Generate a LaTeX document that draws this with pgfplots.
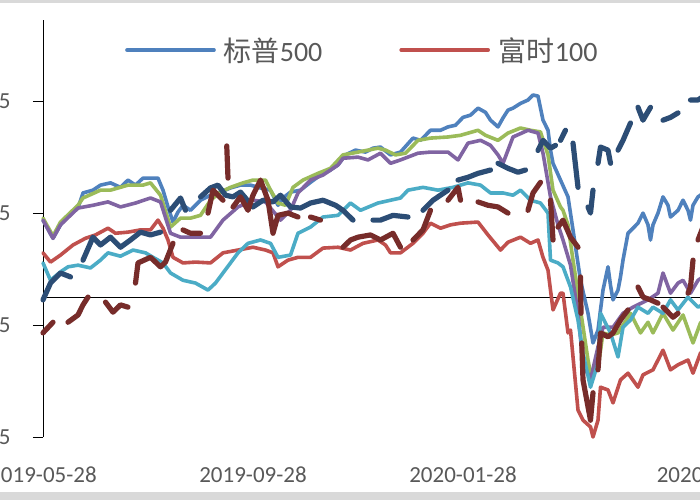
\documentclass[border=0pt]{standalone}
\usepackage{pgfplots}
\pgfplotsset{compat=1.18}
\usepackage{fontspec}
\setmainfont{Carlito}
\newfontfamily\cjk{Noto Sans CJK SC}
\definecolor{cBlue}{HTML}{4F81BD}
\definecolor{cRed}{HTML}{C0504D}
\definecolor{cGreen}{HTML}{9BBB59}
\definecolor{cPurple}{HTML}{8064A2}
\definecolor{cCyan}{HTML}{4BACC6}
\definecolor{cNavy}{HTML}{2C4D75}
\definecolor{cDRed}{HTML}{772C2A}
\definecolor{labelgray}{HTML}{595959}
\definecolor{frame}{HTML}{D9D9D9}
\begin{document}
\begin{tikzpicture}
\useasboundingbox (0,0) rectangle (700bp,500bp);
\clip (0,0) rectangle (700bp,500bp);
\fill[white] (0,0) rectangle (700bp,500bp);
\fill[frame] (0,0) rectangle (700bp,8bp);
\fill[frame] (0,497bp) rectangle (700bp,500bp);
\begin{axis}[
  at={(43bp,63bp)}, anchor=south west,
  scale only axis, width=670bp, height=417bp,
  xmin=0, xmax=268, ymin=0.75, ymax=1.495,
  axis x line=bottom, axis y line=left,
  axis line style={-},
  x axis line style={draw=none},
  y axis line style={black, line width=0.8bp},
  xtick={0,84,168,267},
  xticklabels={2019-05-28,2019-09-28,2020-01-28,2020-05-28},
  xtick style={draw=none},
  ytick={0.75,0.95,1.15,1.35},
  yticklabels={0.75,0.95,1.15,1.35},
  ytick style={black, line width=0.8bp},
  tick align=outside, major tick length=10bp,
  ticklabel style={font=\fontsize{23bp}{27bp}\selectfont, text=labelgray},
  yticklabel style={xshift=-19bp},
  xticklabel style={yshift=-16bp},
  extra y ticks={1}, extra y tick labels={},
  extra y tick style={grid=major, major grid style={black, line width=0.8bp}, tick style={draw=none}},
  unbounded coords=jump,
  clip=false,
  legend columns=2,
  legend style={font=\fontsize{28bp}{33bp}\selectfont, text=labelgray, draw=none, fill=none,
    inner sep=0pt, at={(0.1224,0.928)}, anchor=west,
    nodes={inner sep=0pt},
    /tikz/column 1/.style={column sep=8bp},
    /tikz/column 2/.style={column sep=77bp},
    /tikz/column 3/.style={column sep=9bp}},
  legend image code/.code={\draw[#1] (0bp,0bp) -- (87bp,0bp);},
  every axis plot/.append style={line join=round, line cap=round},
]
% S&P 500
\addplot[cBlue, line width=3.6bp] coordinates {
(0,1.1375)(4,1.105)(7,1.129)(10,1.146)(14,1.159)(16,1.186)(20,1.191)(23,1.200)(27,1.204)(31,1.196)
(34,1.209)(37,1.200)(40,1.2125)(43,1.2125)(46,1.2125)(48,1.191)(50,1.161)(52,1.134)(54,1.152)(56,1.164)
(59,1.155)(63,1.173)(67,1.182)(71,1.1875)(75,1.195)(79,1.200)(83,1.200)(87,1.195)(91,1.191)(94,1.164)
(96,1.177)(99,1.1875)(103,1.191)(107,1.205)(111,1.218)(115,1.227)(118,1.236)(121,1.254)(125,1.2625)(129,1.259)
(132,1.266)(135,1.268)(139,1.254)(143,1.259)(148,1.284)(151,1.280)(155,1.298)(159,1.298)(162,1.304)(165,1.307)
(168,1.321)(171,1.325)(174,1.3375)(177,1.330)(179,1.316)(182,1.304)(184,1.320)(186,1.334)(188,1.3375)(191,1.346)
(194,1.352)(196,1.361)(198,1.359)(200,1.316)(202,1.298)(203,1.2625)(204,1.239)(207,1.209)(210,1.179)(212,1.120)
(215,1.030)(218,0.971)(220,0.918)(222,0.941)(223,0.977)(224,1.0125)(226,1.054)(227,1.021)(228,0.995)(230,1.0125)
(231,1.036)(232,1.066)(234,1.114)(236,1.123)(238,1.132)(240,1.150)(242,1.129)(243,1.102)(244,1.129)(246,1.150)
(248,1.179)(250,1.164)(251,1.143)(254,1.155)(256,1.173)(258,1.155)(259,1.1375)(260,1.164)(262,1.179)(263,1.182)(265,1.191)
};
\addlegendentry{{\cjk 标普}500}
% FTSE 100
\addplot[cRed, line width=3.6bp] coordinates {
(0,1.079)(3,1.0625)(7,1.075)(12,1.093)(17,1.105)(21,1.111)(26,1.123)(29,1.114)(34,1.116)(39,1.120)
(43,1.120)(46,1.1375)(48,1.123)(50,1.102)(52,1.071)(56,1.061)(61,1.0625)(67,1.061)(72,1.079)(78,1.084)
(84,1.089)(89,1.084)(92,1.079)(94,1.054)(98,1.066)(102,1.071)(107,1.071)(112,1.0875)(118,1.089)(123,1.084)
(128,1.096)(134,1.102)(137,1.093)(139,1.079)(143,1.079)(148,1.096)(152,1.114)(155,1.132)(159,1.123)(163,1.129)
(167,1.132)(174,1.134)(178,1.111)(183,1.084)(186,1.098)(191,1.107)(195,1.096)(198,1.102)(200,1.071)(202,1.048)
(204,0.977)(207,1.007)(208,1.007)(210,0.936)(211,0.941)(214,0.798)(216,0.780)(219,0.768)(220,0.750)(222,0.780)
(223,0.839)(226,0.834)(228,0.811)(231,0.852)(234,0.864)(238,0.839)(240,0.861)(244,0.870)(248,0.905)(251,0.870)
(254,0.879)(258,0.8875)(260,0.864)(263,0.900)(265,0.905)
};
\addlegendentry{{\cjk 富时}100}
% green
\addplot[cGreen, line width=3.6bp, forget plot] coordinates {
(0,1.141)(4,1.109)(7,1.134)(14,1.164)(16,1.177)(23,1.191)(27,1.191)(34,1.200)(40,1.200)(43,1.204)
(47,1.182)(51,1.125)(55,1.141)(59,1.141)(63,1.146)(67,1.173)(71,1.1875)(75,1.196)(80,1.204)(84,1.209)
(89,1.209)(91,1.191)(94,1.168)(97,1.164)(100,1.196)(104,1.209)(110,1.221)(115,1.230)(120,1.254)(126,1.259)
(130,1.2625)(134,1.266)(137,1.2625)(141,1.254)(145,1.257)(150,1.280)(155,1.284)(162,1.286)(167,1.289)(174,1.298)
(177,1.289)(182,1.280)(186,1.293)(191,1.302)(195,1.298)(199,1.295)(202,1.254)(204,1.191)(207,1.161)(208,1.155)
(210,1.129)(212,1.066)(215,0.977)(218,0.8875)(219,0.864)(222,0.873)(224,0.936)(227,0.932)(230,0.936)(232,0.950)
(235,0.971)(239,0.936)(242,0.955)(244,0.936)(248,0.971)(252,0.941)(256,0.968)(260,0.918)(263,0.954)(265,0.959)
};
% purple
\addplot[cPurple, line width=3.6bp, forget plot] coordinates {
(0,1.1375)(4,1.105)(7,1.129)(14,1.159)(20,1.164)(26,1.170)(31,1.161)(37,1.168)(43,1.177)(47,1.170)
(51,1.114)(55,1.107)(61,1.107)(67,1.107)(72,1.1375)(78,1.161)(84,1.173)(89,1.170)(95,1.1375)(99,1.155)
(102,1.186)(107,1.209)(112,1.218)(118,1.236)(120,1.248)(126,1.250)(130,1.245)(135,1.257)(139,1.239)(143,1.245)
(150,1.257)(155,1.259)(162,1.259)(166,1.245)(170,1.275)(175,1.280)(179,1.271)(182,1.254)(184,1.239)(186,1.2625)
(188,1.286)(194,1.298)(198,1.293)(200,1.257)(203,1.179)(206,1.129)(208,1.102)(211,1.057)(214,0.971)(216,0.882)
(219,0.852)(222,0.911)(224,0.946)(228,0.946)(232,0.971)(236,0.982)(242,0.995)(246,1.007)(248,1.043)(251,1.007)
(254,1.025)(256,1.030)(259,1.007)(262,1.030)(265,1.039)
};
% cyan
\addplot[cCyan, line width=3.6bp, forget plot] coordinates {
(0,1.061)(3,1.030)(7,1.045)(10,1.054)(14,1.057)(19,1.052)(23,1.066)(26,1.079)(31,1.073)(36,1.084)
(41,1.079)(44,1.071)(48,1.061)(51,1.043)(56,1.030)(61,1.025)(66,1.0125)(69,1.025)(72,1.043)(78,1.079)
(82,1.096)(87,1.102)(91,1.096)(94,1.071)(99,1.075)(102,1.114)(107,1.125)(112,1.143)(118,1.146)(123,1.168)
(127,1.155)(134,1.168)(139,1.173)(143,1.177)(146,1.191)(152,1.196)(158,1.191)(164,1.196)(170,1.204)(175,1.200)
(179,1.186)(184,1.186)(188,1.182)(191,1.191)(195,1.173)(199,1.168)(202,1.150)(203,1.066)(206,1.061)(208,1.054)
(211,1.018)(214,0.959)(216,0.900)(219,0.839)(222,0.882)(223,0.971)(227,0.936)(230,0.893)(232,0.946)(235,0.959)
(238,0.982)(242,0.971)(244,0.982)(248,0.971)(251,0.995)(254,0.977)(258,1.000)(262,0.982)(265,0.989)
};
% navy (with gaps)
\addplot[cNavy, line width=5.2bp, forget plot] coordinates {
(0,0.995)(3,1.025)(7,1.043)(11,1.036)(13,nan)
(16,1.066)(20,1.107)(23,1.093)(27,1.107)(31,1.089)(35,1.102)(39,1.116)(43,1.111)(47,1.116)(49,nan)
(51,1.155)(55,1.177)(57,1.155)(60,nan)
(63,1.179)(67,1.195)(70,1.200)(73,1.182)(76,1.179)(79,1.1875)(84,1.161)(88,1.173)(92,1.170)(95,1.182)
(99,1.161)(103,1.159)(107,1.168)(112,1.173)(117,1.164)(120,1.155)(124,1.1375)(128,nan)
(132,1.1375)(135,1.1375)(140,1.146)(146,1.143)(149,nan)
(152,1.155)(156,1.173)(162,1.191)(164,nan)
(166,1.209)(170,1.214)(174,1.221)(179,1.227)(180,nan)
(182,1.239)(186,1.230)(190,1.223)(193,1.227)(195,nan)
(198,1.262)(200,1.280)(203,1.266)(205,1.271)(206,nan)
(207,1.280)(209,1.298)(210,nan)
(212,1.275)(214,1.196)(216,nan)
(218,1.161)(219,1.150)(220,1.191)(221,nan)
(222,1.239)(223,1.268)(226,1.2625)(227,1.239)(228,nan)
(230,1.2625)(232,1.280)(235,1.311)(236,nan)
(238,1.339)(240,1.316)(243,1.339)(245,nan)
(248,1.316)(251,1.321)(254,1.329)(256,nan)
(259,1.352)(262,1.352)(265,1.361)
};
% dark red (with gaps)
\addplot[cDRed, line width=5.2bp, forget plot] coordinates {
(0,0.936)(4,0.955)(7,nan)
(10,0.955)(14,0.968)(16,0.986)(18,1.000)(21,nan)
(25,0.991)(28,0.973)(31,0.986)(34,0.982)(35,nan)
(37,1.025)(38,1.061)(43,1.071)(47,1.054)(49,1.0625)(52,1.096)(54,nan)
(56,1.120)(59,1.114)(63,1.114)(64,nan)
(66,1.150)(68,1.191)(70,1.182)(72,1.173)(73,nan)
(73.5,1.270)(74,1.2125)(75,nan)
(76,1.161)(79,1.179)(82,1.155)(84,1.182)(87,1.209)(90,1.173)(92,1.114)(94,1.146)(98,1.150)(102,1.143)(104,nan)
(107,1.143)(111,1.1375)(115,nan)
(120,1.089)(123,1.102)(126,1.107)(131,1.111)(135,1.102)(140,1.114)(143,1.089)(145,nan)
(148,1.102)(152,1.120)(155,1.155)(158,nan)
(162,1.173)(166,1.196)(167,1.173)(170,nan)
(174,1.170)(178,1.164)(182,1.161)(186,1.150)(190,nan)
(194,1.155)(196,1.186)(199,1.205)(201,nan)
(203,1.173)(204,1.102)(205,nan)
(206,1.125)(208,1.1375)(211,1.107)(214,1.089)(214.5,nan)
(215,1.036)(215.2,0.971)(215.4,nan)
(215.5,0.918)(216,0.852)(219,0.780)(220,0.829)(221,nan)
(222,0.870)(223,0.936)(226,0.929)(228,0.936)(231,0.959)(234,0.977)(236,nan)
(238,1.018)(240,1.000)(243,0.995)(246,0.989)(247,nan)
(248,0.982)(252,0.964)(254,0.971)(256,nan)
(258,1.007)(259,1.018)(260,1.066)(261,nan)
(262,1.102)(264,1.125)
};
\end{axis}
\end{tikzpicture}
\end{document}
